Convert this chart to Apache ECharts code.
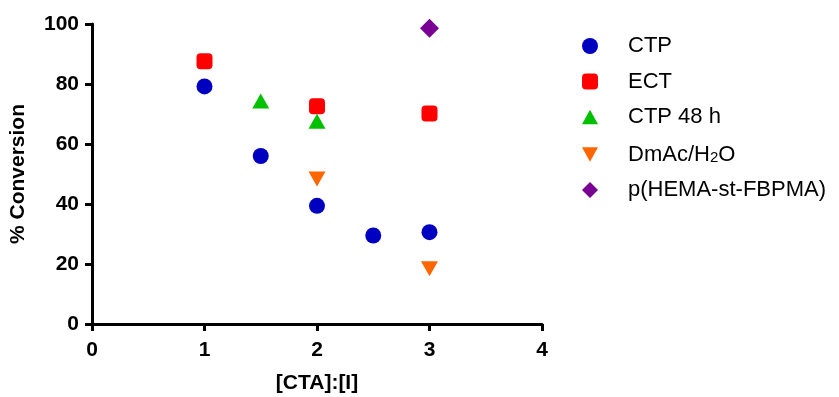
<!DOCTYPE html>
<html>
<head>
<meta charset="utf-8">
<script src="https://cdn.jsdelivr.net/npm/echarts@6/dist/echarts.min.js"></script>
<style>
  html, body { margin: 0; padding: 0; background: #fff; }
  #chart { width: 839px; height: 397px; }
</style>
</head>
<body>
<div id="chart"></div>
<script>
// Monomer conversion versus [CTA]:[I] ratio for each polymerisation set
const ctpX = [1, 1.5, 2, 2.5, 3];
const ctpY = [79.2, 56, 39.4, 29.5, 30.6];
const ectX = [1, 2, 3];
const ectY = [87.6, 72.6, 70.2];
const ctp48X = [1.5, 2];
const ctp48Y = [74.3, 67.6];
const dmacX = [2, 3];
const dmacY = [48.3, 18.4];
const hemaX = [3];
const hemaY = [98.6];

const xTicks = [0, 1, 2, 3, 4];
const yTicks = [0, 20, 40, 60, 80, 100];

const pairs = (xs, ys) => xs.map((x, i) => [x, ys[i]]);

const FONT = '"Liberation Sans", Arial, sans-serif';
const UP = 'path://M5,0 L10,9 L0,9 Z';
const DOWN = 'path://M0,0 L10,0 L5,9 Z';

const series = [
  { name: 'CTP', data: pairs(ctpX, ctpY), symbol: 'circle', symbolSize: 16, color: '#0000C0', icon: 'circle' },
  { name: 'ECT', data: pairs(ectX, ectY), symbol: 'roundRect', symbolSize: 16, color: '#FF0000', icon: 'roundRect' },
  { name: 'CTP 48 h', data: pairs(ctp48X, ctp48Y), symbol: UP, symbolSize: [17, 15], color: '#00C000', icon: UP },
  { name: 'DmAc/H2O', data: pairs(dmacX, dmacY), symbol: DOWN, symbolSize: [17, 15], color: '#FF6600', icon: DOWN },
  { name: 'p(HEMA-st-FBPMA)', data: pairs(hemaX, hemaY), symbol: 'diamond', symbolSize: 19, color: '#7A0094', icon: 'diamond' }
];

const chart = echarts.init(document.getElementById('chart'), null, { renderer: 'canvas' });
chart.setOption({
  animation: false,
  backgroundColor: '#ffffff',
  grid: { left: 92, right: 297, top: 24, bottom: 73, containLabel: false, outerBoundsMode: 'none' },
  xAxis: {
    type: 'value',
    min: xTicks[0], max: xTicks[xTicks.length - 1], interval: 1,
    name: '[CTA]:[I]',
    nameLocation: 'middle',
    nameGap: 49,
    nameTextStyle: { fontFamily: FONT, fontWeight: 'bold', fontSize: 21, color: '#000' },
    axisLine: { lineStyle: { color: '#000', width: 3 } },
    axisTick: { show: true, length: 7, lineStyle: { color: '#000', width: 3 } },
    axisLabel: { margin: 16, fontFamily: FONT, fontWeight: 'bold', fontSize: 21, color: '#000' },
    splitLine: { show: false }
  },
  yAxis: {
    type: 'value',
    min: yTicks[0], max: yTicks[yTicks.length - 1], interval: 20,
    name: '% Conversion',
    nameLocation: 'middle',
    nameGap: 63,
    nameTextStyle: { fontFamily: FONT, fontWeight: 'bold', fontSize: 21, color: '#000' },
    axisLine: { show: true, lineStyle: { color: '#000', width: 3 } },
    axisTick: { show: true, length: 7, lineStyle: { color: '#000', width: 3 } },
    axisLabel: { margin: 13, fontFamily: FONT, fontWeight: 'bold', fontSize: 21, color: '#000' },
    splitLine: { show: false }
  },
  legend: {
    orient: 'vertical',
    left: 577,
    top: 30,
    itemWidth: 16,
    itemHeight: 16,
    itemGap: 13.5,
    formatter: name => name === 'DmAc/H2O' ? 'DmAc/H{sub|2}O' : name,
    textStyle: {
      fontFamily: FONT, fontSize: 22, color: '#000', lineHeight: 22, padding: [0, 0, 0, 25],
      rich: { sub: { fontFamily: FONT, fontSize: 15, color: '#000', verticalAlign: 'bottom', padding: [9, 0, 0, 0], lineHeight: 22 } }
    },
    data: series.map(s => ({ name: s.name, icon: s.icon }))
  },
  series: series.map(s => ({
    type: 'scatter',
    name: s.name,
    data: s.data,
    symbol: s.symbol,
    symbolSize: s.symbolSize,
    itemStyle: { color: s.color, opacity: 1 }
  }))
});
</script>
</body>
</html>
